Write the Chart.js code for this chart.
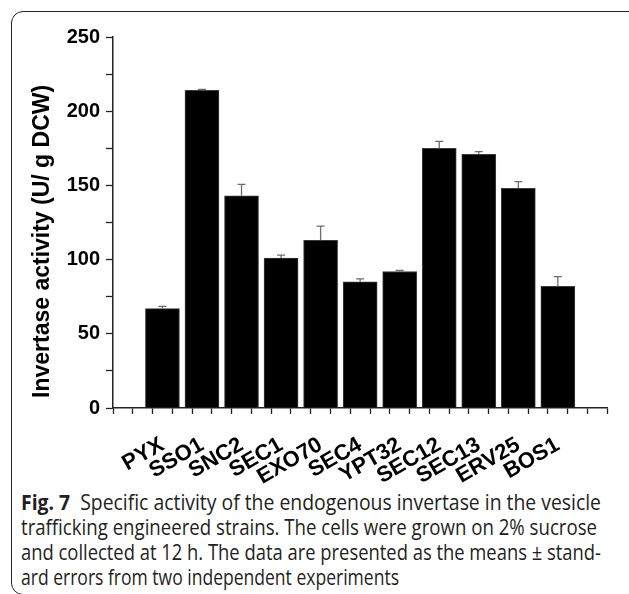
<!DOCTYPE html>
<html>
<head>
<meta charset="utf-8">
<script src="https://cdn.jsdelivr.net/npm/chart.js@4.4.1/dist/chart.umd.min.js"></script>
<style>
  html, body { margin: 0; padding: 0; background: #fff; }
  body { width: 629px; height: 594px; position: relative; overflow: hidden; }
  #frame {
    position: absolute; left: 11px; top: 11px; width: 660px; height: 584px;
    border: 1.3px solid #222; border-radius: 12px; box-sizing: border-box;
  }
  #wrap { position: absolute; left: 0; top: 0; width: 629px; height: 488px; }
  #caption {
    position: absolute; left: 21px; top: 490px;
    font-family: 'Open Sans', sans-serif;
    font-size: 21px; line-height: 25px; color: #231f20; white-space: nowrap;
  }
  #caption div { display: block; width: max-content; transform-origin: 0 0; }
  #caption b { font-weight: bold; }
</style>
</head>
<body>
<div id="frame"></div>
<div id="wrap"><canvas id="chart"></canvas></div>
<div id="caption">
  <div data-w="580"><b>Fig. 7</b>&nbsp; Specific activity of the endogenous invertase in the vesicle</div>
  <div data-w="576">trafficking engineered strains. The cells were grown on 2% sucrose</div>
  <div data-w="580">and collected at 12 h. The data are presented as the means ± stand-</div>
  <div data-w="378">ard errors from two independent experiments</div>
</div>
<script>
// souches et activités (U/ g DCW)
const strains = ['PYX', 'SSO1', 'SNC2', 'SEC1', 'EXO70', 'SEC4', 'YPT32', 'SEC12', 'SEC13', 'ERV25', 'BOS1'];
const activity = [67, 214, 143, 101, 113, 85, 92, 175, 171, 148, 82];
const stdErr = [1.5, 0.7, 7.7, 2, 9.5, 2, 0.8, 4.7, 1.8, 4.5, 6.5];
const yTitle = 'Invertase activity (U/ g DCW)';

// la légende est en police condensée dans la figure : on resserre chaque ligne
document.querySelectorAll('#caption div').forEach(function(line) {
    const w = line.getBoundingClientRect().width;
    line.style.transform = 'scaleX(' + (Number(line.dataset.w) / w) + ')';
});

// barres d'erreur (seulement vers le haut)
const errorBars = {
    id: 'errorBars',
    afterDatasetsDraw(chart) {
        const ctx = chart.ctx;
        const y = chart.scales.y;
        const meta = chart.getDatasetMeta(0);
        ctx.save();
        ctx.strokeStyle = '#6e6e6e';
        ctx.lineWidth = 1.3;
        meta.data.forEach(function(bar, i) {
            const top = y.getPixelForValue(activity[i] + stdErr[i]);
            ctx.beginPath();
            ctx.moveTo(bar.x, bar.y);
            ctx.lineTo(bar.x, top);
            ctx.moveTo(bar.x - 4, top);
            ctx.lineTo(bar.x + 4, top);
            ctx.stroke();
        });
        ctx.restore();
    }
};

// titre de l'axe Y, un peu décalé vers le bas comme dans la figure
const yAxisTitle = {
    id: 'yAxisTitle',
    afterDraw(chart) {
        const ctx = chart.ctx;
        const area = chart.chartArea;
        ctx.save();
        ctx.translate(48.5, area.bottom - 10);
        ctx.rotate(-Math.PI / 2);
        ctx.font = 'bold 23px "Liberation Sans", Arial, sans-serif';
        ctx.fillStyle = '#000';
        ctx.textAlign = 'left';
        ctx.textBaseline = 'alphabetic';
        ctx.fillText(yTitle, 0, 0);
        ctx.restore();
    }
};

new Chart(document.getElementById('chart'), {
    type: 'bar',
    data: {
        datasets: [{
            data: activity.map((v, i) => ({ x: i + 1, y: v })),
            backgroundColor: '#000',
            borderColor: '#3a3a3a',
            borderWidth: 1,
            barThickness: 34
        }]
    },
    options: {
        responsive: true,
        maintainAspectRatio: false,
        animation: false,
        layout: { padding: { left: 0, right: 20, top: 37, bottom: 0 } },
        plugins: {
            legend: { display: false },
            tooltip: { enabled: false }
        },
        scales: {
            x: {
                type: 'linear',
                min: 0,
                max: 12,
                border: { color: '#222', width: 1.5 },
                grid: { drawOnChartArea: false, tickLength: 6, tickColor: '#222', tickWidth: 1.3 },
                ticks: {
                    stepSize: 0.5,
                    autoSkip: false,
                    minRotation: 30,
                    maxRotation: 30,
                    padding: 18,
                    color: '#000',
                    font: { family: '"Liberation Sans", Arial, sans-serif', weight: 'bold', size: 22 },
                    callback: function(v) {
                        return Number.isInteger(v) && v >= 1 && v <= strains.length ? strains[v - 1] : '';
                    }
                },
                afterFit: function(s) { s.height = 80; }
            },
            y: {
                min: 0,
                max: 250,
                border: { color: '#222', width: 1.5 },
                grid: { drawOnChartArea: false, tickLength: 7, tickColor: '#222', tickWidth: 1.3 },
                ticks: {
                    stepSize: 25,
                    padding: 6,
                    color: '#000',
                    font: { family: '"Liberation Sans", Arial, sans-serif', weight: 'bold', size: 20 },
                    callback: function(v) { return v % 50 === 0 ? v : ''; }
                },
                afterFit: function(s) { s.width = 113; }
            }
        }
    },
    plugins: [errorBars, yAxisTitle]
});
</script>
</body>
</html>
